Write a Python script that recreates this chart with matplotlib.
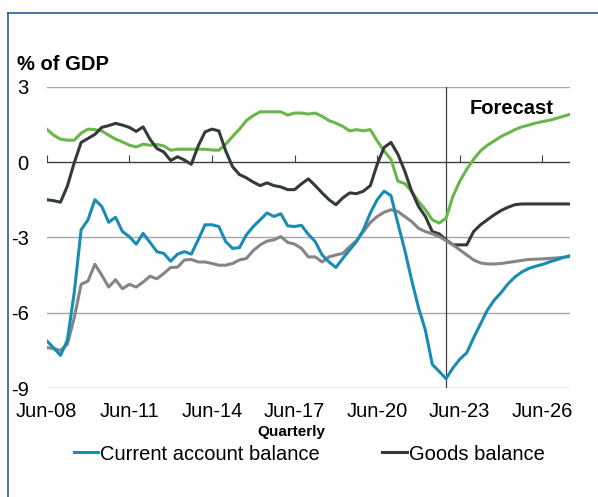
import matplotlib
matplotlib.use("Agg")
import matplotlib.pyplot as plt
from matplotlib.lines import Line2D

plt.rcParams['font.family'] = ['Liberation Sans', 'DejaVu Sans']

# quarterly, Jun-08 .. Jun-27 (forecast from Dec-22)
current_account = [-7.12, -7.4, -7.7, -7.1, -5.2, -2.7, -2.3, -1.5, -1.77, -2.4,
                   -2.2, -2.77, -2.97, -3.27, -2.84, -3.2, -3.57, -3.64, -3.95, -3.67,
                   -3.57, -3.67, -3.1, -2.5, -2.5, -2.57, -3.17, -3.44, -3.41, -2.9,
                   -2.57, -2.3, -2.03, -2.17, -2.06, -2.54, -2.57, -2.52, -2.88, -3.17,
                   -3.7, -3.98, -4.2, -3.84, -3.5, -3.17, -2.7, -2.03, -1.5, -1.16,
                   -1.34, -2.44, -3.5, -4.7, -5.8, -6.7, -8.06, -8.34, -8.63, -8.2,
                   -7.85, -7.6, -7.0, -6.45, -5.9, -5.5, -5.2, -4.85, -4.58, -4.38,
                   -4.24, -4.15, -4.08, -3.98, -3.9, -3.8, -3.73]
goods = [-1.5, -1.54, -1.6, -0.96, -0.03, 0.78, 0.94, 1.1, 1.38, 1.45,
         1.54, 1.47, 1.38, 1.22, 1.4, 0.91, 0.54, 0.4, 0.06, 0.21,
         0.08, -0.09, 0.64, 1.2, 1.31, 1.24, 0.44, -0.19, -0.5, -0.63,
         -0.8, -0.94, -0.83, -0.94, -0.99, -1.1, -1.1, -0.87, -0.67, -0.94,
         -1.23, -1.5, -1.7, -1.43, -1.23, -1.26, -1.16, -0.94, -0.09, 0.58,
         0.78, 0.31, -0.36, -1.16, -1.77, -2.17, -2.77, -2.86, -3.1, -3.3,
         -3.3, -3.3, -2.77, -2.5, -2.3, -2.1, -1.93, -1.8, -1.7, -1.67,
         -1.67, -1.67, -1.67, -1.67, -1.67, -1.67, -1.67]
services = [1.31, 1.07, 0.91, 0.87, 0.87, 1.15, 1.31, 1.29, 1.24, 1.07,
            0.91, 0.8, 0.67, 0.6, 0.71, 0.67, 0.7, 0.64, 0.47, 0.51,
            0.51, 0.51, 0.51, 0.51, 0.48, 0.47, 0.71, 1.02, 1.31, 1.65,
            1.85, 2.0, 2.0, 2.0, 2.0, 1.87, 1.95, 1.95, 1.91, 1.95,
            1.82, 1.65, 1.55, 1.42, 1.24, 1.29, 1.24, 1.29, 0.84, 0.44,
            0.11, -0.76, -0.86, -1.16, -1.57, -1.9, -2.3, -2.43, -2.24, -1.36,
            -0.76, -0.29, 0.11, 0.44, 0.67, 0.84, 1.02, 1.15, 1.29, 1.4,
            1.47, 1.55, 1.61, 1.66, 1.74, 1.82, 1.9]
income = [-7.39, -7.43, -7.5, -7.26, -6.2, -4.87, -4.74, -4.07, -4.51, -4.98,
          -4.69, -5.05, -4.87, -4.98, -4.78, -4.55, -4.65, -4.44, -4.2, -4.19,
          -3.9, -3.88, -3.98, -3.98, -4.04, -4.11, -4.11, -4.04, -3.9, -3.84,
          -3.53, -3.3, -3.15, -3.1, -2.97, -3.2, -3.27, -3.44, -3.78, -3.78,
          -3.98, -3.78, -3.7, -3.64, -3.37, -3.13, -2.77, -2.41, -2.17, -2.0,
          -1.9, -1.97, -2.17, -2.37, -2.64, -2.77, -2.86, -2.97, -3.13, -3.3,
          -3.5, -3.7, -3.9, -4.02, -4.06, -4.06, -4.04, -4.0, -3.96, -3.92,
          -3.88, -3.87, -3.86, -3.84, -3.82, -3.8, -3.76]
tick_labels = ["Jun-08", "Jun-11", "Jun-14", "Jun-17", "Jun-20", "Jun-23", "Jun-26"]
forecast_start = 58  # Dec-22

q = list(range(len(current_account)))

fig = plt.figure(figsize=(5.98, 4.97), dpi=100)
ax = fig.add_axes([46.7 / 598, 1 - 388 / 497, (570 - 46.7) / 598, (388 - 86.7) / 497])

for yv in [3, -3, -6, -9]:
    ax.axhline(yv, color="#a6a6a6", lw=1.0, zorder=1)
ax.axhline(0, color="#404040", lw=1.0, zorder=1)
ax.axvline(forecast_start, color="#404040", lw=0.9, zorder=1)

ax.plot(q, services, color="#6ab64a", lw=2.2, zorder=3)
ax.plot(q, goods, color="#333a3a", lw=2.2, zorder=3, label="Goods balance")
ax.plot(q, income, color="#858585", lw=2.2, zorder=3)
ax.plot(q, current_account, color="#1a8cb4", lw=2.2, zorder=4, label="Current account balance")

ax.set_xlim(0, 76)
ax.set_ylim(-9, 3)
ax.set_yticks([3, 0, -3, -6, -9])
ax.set_yticklabels(["3", "0", "-3", "-6", "-9"])
ax.set_xticks(range(0, 73, 12))
ax.set_xticklabels(tick_labels)
ax.tick_params(axis="both", length=0, labelsize=14.5, colors="black")
ax.tick_params(axis="y", pad=13)
ax.tick_params(axis="x", pad=10)
for s in ax.spines.values():
    s.set_visible(False)

# tick marks on the zero line
sec = ax.secondary_xaxis(0.75)
sec.set_xticks(range(0, 73, 12))
sec.tick_params(length=5, direction="out", color="#404040", labelbottom=False, labeltop=False)
sec.spines["bottom"].set_visible(False)
sec.spines["top"].set_visible(False)

ax.text(0.809, 0.929, "Forecast", transform=ax.transAxes, ha="left", va="center",
        fontsize=14.5, fontweight="bold")
fig.text(17 / 598, 1 - 65 / 497, "% of GDP", ha="left", va="center",
         fontsize=14.5, fontweight="bold")
fig.text(291 / 598, 1 - 432 / 497, "Quarterly", ha="center", va="center",
         fontsize=11, fontweight="bold")

handles, labels = ax.get_legend_handles_labels()
order = [1, 0]
fig.legend([handles[i] for i in order], [labels[i] for i in order],
           loc="center left", bbox_to_anchor=(74 / 598, 1 - 454 / 497), ncol=2,
           frameon=False, fontsize=14.5, handlelength=1.2, handletextpad=0.1,
           columnspacing=3.1, borderpad=0, borderaxespad=0)

# outer frame (left and top edges visible)
fig.add_artist(Line2D([8 / 598, 8 / 598], [0, 1 - 13 / 497], transform=fig.transFigure,
                      color="#2a5aa8", lw=1.2))
fig.add_artist(Line2D([8 / 598, 1], [1 - 13 / 497, 1 - 13 / 497], transform=fig.transFigure,
                      color="#2a5aa8", lw=1.2))

fig.savefig("out.png", dpi=100)
